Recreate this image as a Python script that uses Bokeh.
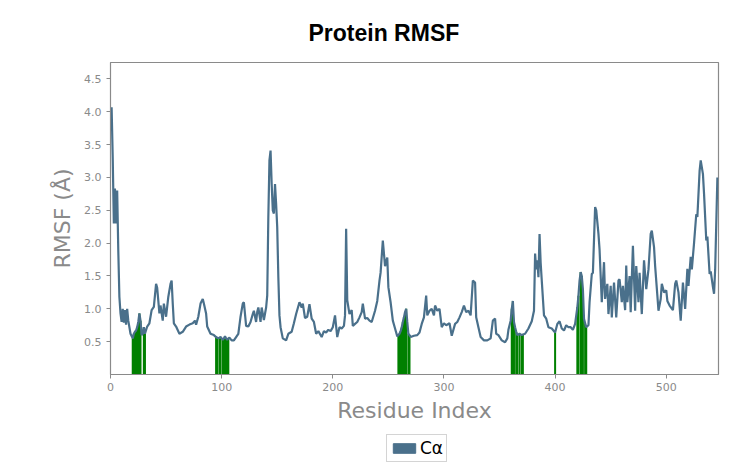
from bokeh.embed import file_html
from bokeh.resources import INLINE
from bokeh.layouts import column
from bokeh.models import (ColumnDataSource, Range1d, FixedTicker, Legend, LegendItem,
                          NumeralTickFormatter)
from bokeh.plotting import figure

# RMSF per residue
residue = [
    1, 2, 3, 4, 5, 6, 7, 8, 9, 10, 11, 12, 13, 14, 15, 16, 18, 20, 21, 22,
    23, 24, 25, 26, 27, 28, 29, 30, 31, 33, 35, 37, 39, 41, 42, 44, 45, 47, 48, 50,
    52, 54, 55, 56, 57, 59, 62, 65, 68, 71, 74, 76, 77, 79, 81, 83, 84, 86, 87, 90,
    93, 95, 96, 97, 98, 99, 101, 102, 103, 104, 105, 106, 107, 109, 111, 113, 115, 117, 119, 120,
    122, 124, 126, 128, 129, 131, 132, 133, 135, 136, 138, 140, 141, 142, 143, 144, 145, 146, 147, 148,
    149, 150, 151, 152, 153, 155, 158, 160, 163, 165, 167, 170, 172, 173, 175, 177, 179, 181, 183, 185,
    187, 190, 192, 194, 196, 198, 200, 202, 204, 206, 208, 210, 211, 212, 213, 215, 217, 218, 220, 222,
    224, 226, 227, 229, 231, 233, 235, 238, 240, 242, 243, 245, 247, 249, 250, 252, 254, 256, 258, 259,
    260, 261, 262, 263, 264, 265, 266, 267, 268, 269, 270, 273, 276, 278, 280, 282, 284, 285, 287, 289,
    291, 292, 294, 296, 298, 300, 302, 305, 307, 310, 312, 314, 316, 318, 320, 322, 324, 326, 328, 329,
    331, 333, 336, 339, 342, 344, 346, 347, 349, 352, 355, 357, 358, 360, 361, 362, 363, 364, 365, 366,
    368, 370, 371, 373, 376, 379, 381, 382, 383, 384, 385, 386, 387, 388, 390, 392, 394, 397, 400, 402,
    404, 406, 408, 410, 412, 414, 416, 418, 420, 421, 422, 423, 424, 425, 426, 427, 428, 430, 431, 433,
    434, 436, 437, 439, 440, 442, 444, 445, 447, 448, 450, 451, 453, 455, 457, 458, 460, 461, 463, 464,
    465, 467, 468, 470, 472, 473, 475, 476, 478, 480, 482, 484, 486, 487, 489, 490, 492, 493, 495, 496,
    498, 500, 501, 503, 506, 508, 509, 511, 513, 515, 517, 519, 520, 522, 523, 525, 527, 528, 530, 531,
    533, 534, 536, 537, 539, 540, 542, 543, 544, 546,
]
rmsf = [
    4.07, 3.30, 2.30, 2.83, 2.30, 2.80, 1.89, 1.18, 0.93, 0.80, 1.00, 0.79, 0.98, 0.76, 1.00, 0.82, 0.62, 0.55, 0.62, 0.65,
    0.67, 0.72, 0.80, 0.93, 0.82, 0.60, 0.62, 0.72, 0.62, 0.73, 0.78, 0.98, 1.03, 1.38, 1.32, 0.93, 1.05, 0.82, 1.08, 0.88,
    1.18, 1.38, 1.43, 1.08, 0.78, 0.73, 0.62, 0.65, 0.73, 0.76, 0.78, 0.82, 0.76, 0.88, 1.08, 1.15, 1.08, 0.93, 0.73, 0.62,
    0.60, 0.57, 0.56, 0.55, 0.56, 0.57, 0.53, 0.55, 0.58, 0.55, 0.53, 0.55, 0.56, 0.52, 0.52, 0.57, 0.62, 0.88, 1.08, 1.10,
    0.74, 0.73, 0.80, 0.92, 0.97, 0.80, 0.95, 1.02, 0.80, 1.02, 0.83, 1.02, 1.20, 2.40, 3.26, 3.41, 2.90, 2.50, 2.45, 2.90,
    2.60, 2.24, 1.48, 0.90, 0.72, 0.55, 0.52, 0.62, 0.65, 0.78, 0.92, 1.10, 1.02, 1.08, 0.86, 0.88, 1.07, 0.85, 0.80, 0.62,
    0.66, 0.57, 0.66, 0.64, 0.68, 0.66, 0.72, 0.90, 0.57, 0.72, 0.70, 0.74, 0.90, 2.22, 1.13, 0.92, 0.98, 0.74, 0.77, 0.80,
    0.87, 0.95, 1.08, 0.85, 0.86, 0.82, 0.80, 0.97, 1.12, 1.43, 1.55, 2.04, 1.65, 1.78, 1.33, 1.10, 0.82, 0.70, 0.58, 0.60,
    0.62, 0.66, 0.72, 0.80, 0.87, 0.95, 1.00, 0.80, 0.62, 0.60, 0.57, 0.59, 0.60, 0.64, 0.77, 0.87, 1.20, 0.90, 0.97, 1.00,
    0.90, 1.05, 0.97, 1.00, 0.72, 0.78, 0.75, 0.78, 0.59, 0.77, 0.80, 0.87, 0.95, 1.05, 0.95, 0.97, 0.90, 1.43, 1.40, 0.87,
    0.72, 0.57, 0.52, 0.52, 0.55, 0.82, 0.85, 0.62, 0.60, 0.52, 0.49, 0.55, 0.68, 0.82, 1.00, 1.12, 0.80, 0.72, 0.65, 0.60,
    0.62, 0.60, 0.61, 0.62, 0.70, 0.81, 0.97, 1.84, 1.60, 1.74, 1.48, 2.14, 1.70, 1.43, 0.90, 0.85, 0.72, 0.70, 0.64, 0.77,
    0.81, 0.70, 0.67, 0.75, 0.72, 0.72, 0.68, 0.77, 1.02, 1.20, 1.43, 1.56, 1.50, 1.30, 0.85, 0.78, 0.72, 0.75, 1.10, 1.53,
    1.55, 2.55, 2.50, 2.14, 1.90, 1.10, 1.71, 1.15, 1.38, 0.92, 1.35, 0.87, 1.40, 0.87, 1.43, 1.45, 1.10, 1.35, 0.98, 1.66,
    1.10, 1.50, 0.95, 1.96, 0.97, 1.65, 1.10, 1.55, 0.92, 1.74, 1.30, 1.60, 2.14, 2.19, 1.94, 1.65, 1.20, 0.97, 1.15, 1.38,
    1.25, 1.28, 1.12, 1.05, 0.98, 1.38, 1.43, 1.25, 0.82, 1.40, 1.00, 1.61, 1.35, 1.79, 1.60, 2.00, 2.44, 2.40, 3.10, 3.26,
    3.05, 2.75, 2.04, 2.10, 1.53, 1.57, 1.33, 1.23, 1.60, 3.00,
]

# residues in contact (green bars)
contacts = [
    20, 21, 22, 23, 24, 25, 26, 27, 30, 31,
    95, 96, 98, 99, 101, 102, 103, 104, 105, 106,
    259, 260, 261, 262, 263, 264, 265, 266, 268, 269,
    361, 362, 363, 365, 366, 368, 370, 371,
    400,
    420, 421, 423, 424, 425, 427, 428,
]

y_ticks = [0.5, 1.0, 1.5, 2.0, 2.5, 3.0, 3.5, 4.0, 4.5]
x_ticks = [0, 100, 200, 300, 400, 500]

LINE = "#4a708b"
GREY = "#8a8a8a"

lookup = dict(zip(residue, rmsf))
src_line = ColumnDataSource(dict(x=residue, y=rmsf))
src_bar = ColumnDataSource(dict(x=contacts, y0=[0] * len(contacts),
                                y1=[lookup[r] for r in contacts]))

p = figure(
    frame_width=608, frame_height=312,
    min_border_left=110, min_border_right=10, min_border_top=0, min_border_bottom=56,
    x_range=Range1d(0, 547), y_range=Range1d(0, 4.75),
    output_backend="svg", toolbar_location=None,
    title="Protein RMSF",
)

p.title.text_font = "Liberation Sans"
p.title.text_font_size = "23px"
p.title.text_font_style = "bold"
p.title.text_color = "black"
p.title.align = "left"
p.title.offset = 198
p.title.standoff = 34

p.grid.visible = False
p.outline_line_color = GREY
p.outline_line_width = 1.2

for ax in (p.xaxis[0], p.yaxis[0]):
    ax.axis_line_color = GREY
    ax.major_tick_line_color = GREY
    ax.major_tick_out = 4
    ax.major_tick_in = 0
    ax.minor_tick_line_color = None
    ax.major_label_text_font = "DejaVu Sans"
    ax.major_label_text_font_size = "11px"
    ax.major_label_text_color = GREY
    ax.axis_label_text_font = "DejaVu Sans"
    ax.axis_label_text_font_size = "22px"
    ax.axis_label_text_font_style = "normal"
    ax.axis_label_text_color = GREY

p.xaxis.ticker = FixedTicker(ticks=x_ticks)
p.yaxis.ticker = FixedTicker(ticks=y_ticks)
p.yaxis.formatter = NumeralTickFormatter(format="0.0")
p.xaxis.axis_label = "Residue Index"
p.yaxis.axis_label = "RMSF (Å)"
p.xaxis.major_label_standoff = 4
p.xaxis.axis_label_standoff = 4
p.yaxis.axis_label_standoff = 6

# contact residues first, RMSF line on top
p.segment(x0="x", y0="y0", x1="x", y1="y1", source=src_bar,
          line_color="#008000", line_width=2)
p.line("x", "y", source=src_line, line_color=LINE, line_width=2.2)

# legend strip under the chart (its own small canvas, frame aligned with the chart)
lf = figure(width=736, height=38, min_border=0, x_axis_type=None, y_axis_type=None,
            x_range=Range1d(0, 1), y_range=Range1d(0, 1),
            output_backend="svg", toolbar_location=None)
lf.outline_line_color = None
lf.grid.visible = False
# proxy patch kept outside the visible range, only its swatch shows in the legend
patch = lf.quad(left=[2], right=[3], top=[3], bottom=[2], fill_color=LINE, line_color=LINE)
legend = Legend(items=[LegendItem(label="Cα", renderers=[patch])],
                location=(276, 6), orientation="horizontal")
legend.glyph_width = 28
legend.glyph_height = 12
legend.label_height = 14
legend.label_text_font = "DejaVu Sans"
legend.label_text_font_size = "17px"
legend.label_text_color = "black"
legend.label_standoff = 2
legend.padding = 3
legend.margin = 0
legend.border_line_color = "#aaaaaa"
legend.background_fill_color = "white"
lf.add_layout(legend)

open("out.html", "w").write(file_html(column(p, lf), INLINE))
